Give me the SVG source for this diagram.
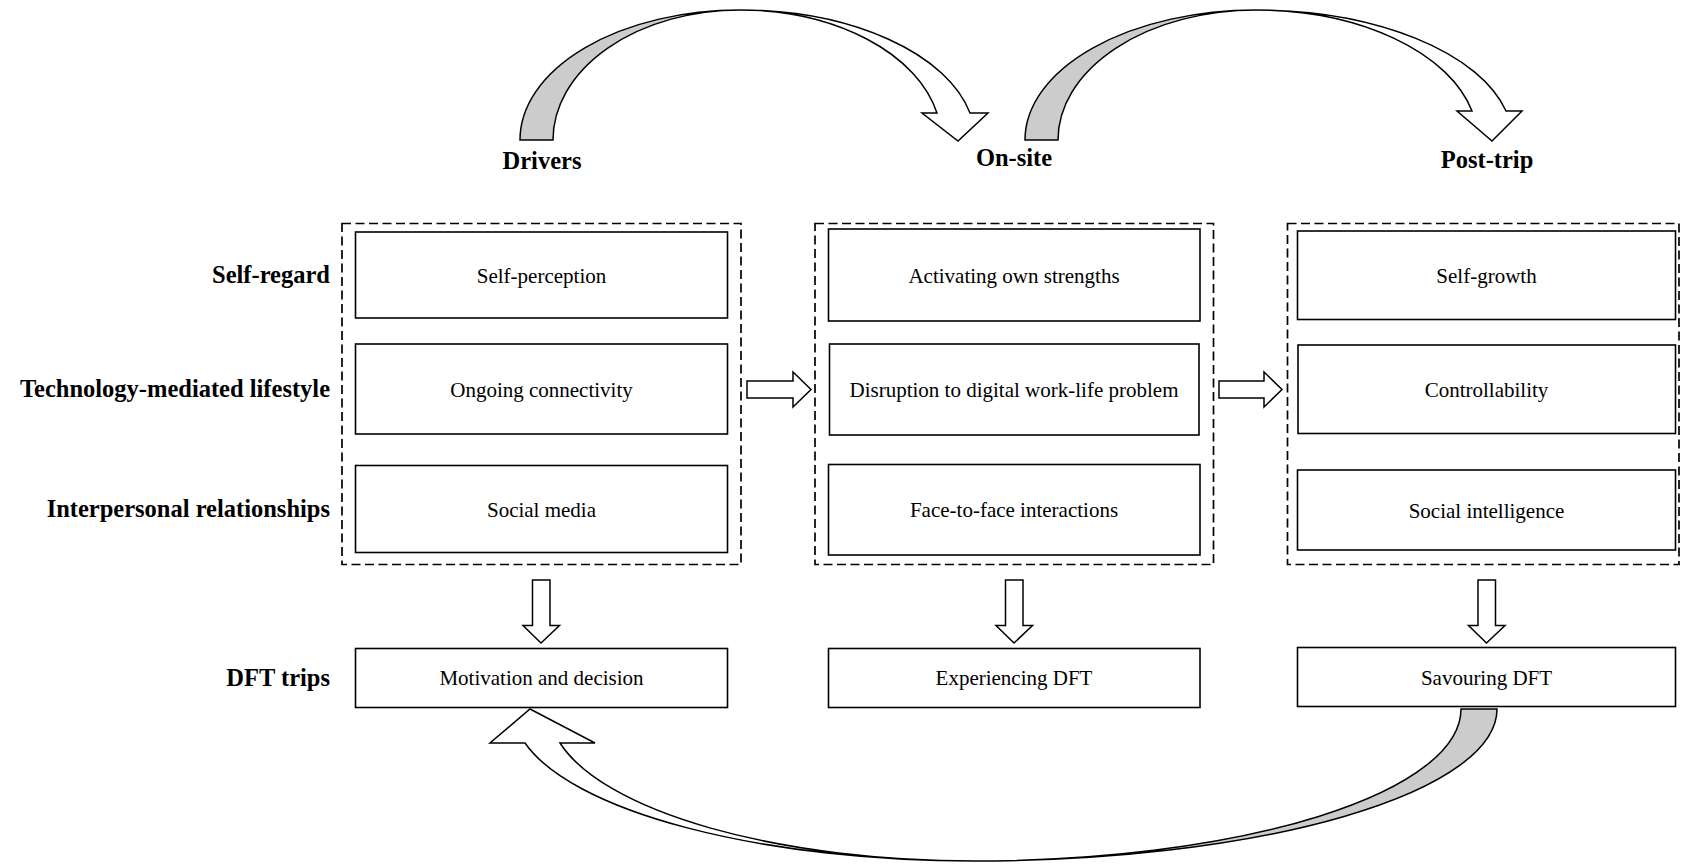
<svg xmlns="http://www.w3.org/2000/svg" width="1681" height="864" viewBox="0 0 1681 864">
  <style>
    .bg { fill: #ffffff; }
    .box { fill: #ffffff; stroke: #000000; stroke-width: 1.6; }
    .group { fill: none; stroke: #000000; stroke-width: 1.7; stroke-dasharray: 9 4.5; }
    .txt { font-family: "Liberation Serif", "Times New Roman", serif; font-size: 21px; fill: #000000; text-anchor: middle; }
    .lbl { font-family: "Liberation Serif", "Times New Roman", serif; font-size: 24.5px; font-weight: bold; fill: #000000; text-anchor: end; }
    .hdr { font-family: "Liberation Serif", "Times New Roman", serif; font-size: 24.5px; font-weight: bold; fill: #000000; text-anchor: middle; }
    .blk { fill: #ffffff; stroke: #000000; stroke-width: 1.5; stroke-linejoin: miter; }
    .back { fill: #cccccc; stroke: #000000; stroke-width: 1.5; stroke-linejoin: miter; }
  </style>
  <rect class="bg" x="0" y="0" width="1681" height="864"/>

  <!-- Phase headers -->
  <g id="header-drivers"><text class="hdr" x="542" y="169">Drivers</text></g>
  <g id="header-onsite"><text class="hdr" x="1014" y="166">On-site</text></g>
  <g id="header-posttrip"><text class="hdr" x="1487" y="168">Post-trip</text></g>

  <!-- Row labels -->
  <g id="label-self-regard"><text class="lbl" x="330" y="283">Self-regard</text></g>
  <g id="label-technology"><text class="lbl" x="330" y="397">Technology-mediated lifestyle</text></g>
  <g id="label-interpersonal"><text class="lbl" x="330" y="517">Interpersonal relationships</text></g>
  <g id="label-dft-trips"><text class="lbl" x="330" y="686">DFT trips</text></g>

  <!-- Phase groupings (dashed) -->
  <g id="group-drivers"><rect class="group" x="342" y="223.5" width="399" height="341"/></g>
  <g id="group-onsite"><rect class="group" x="815" y="223.5" width="398.5" height="341"/></g>
  <g id="group-posttrip"><rect class="group" x="1287.5" y="223.5" width="391.5" height="341"/></g>

  <!-- Drivers column -->
  <g id="node-self-perception">
    <rect class="box" x="355.5" y="232" width="372" height="86"/>
    <text class="txt" x="541.5" y="282.5">Self-perception</text>
  </g>
  <g id="node-ongoing-connectivity">
    <rect class="box" x="355.5" y="344" width="372" height="90"/>
    <text class="txt" x="541.5" y="396.5">Ongoing connectivity</text>
  </g>
  <g id="node-social-media">
    <rect class="box" x="355.5" y="465.5" width="372" height="87"/>
    <text class="txt" x="541.5" y="517">Social media</text>
  </g>

  <!-- On-site column -->
  <g id="node-activating-strengths">
    <rect class="box" x="828.5" y="229" width="371.5" height="92"/>
    <text class="txt" x="1014" y="282.5">Activating own strengths</text>
  </g>
  <g id="node-disruption">
    <rect class="box" x="829.5" y="344" width="369.5" height="91"/>
    <text class="txt" x="1014" y="397">Disruption to digital work-life problem</text>
  </g>
  <g id="node-face-to-face">
    <rect class="box" x="828.5" y="464.5" width="371.5" height="90.5"/>
    <text class="txt" x="1014" y="517">Face-to-face interactions</text>
  </g>

  <!-- Post-trip column -->
  <g id="node-self-growth">
    <rect class="box" x="1297.5" y="231" width="378" height="88.5"/>
    <text class="txt" x="1486.5" y="282.5">Self-growth</text>
  </g>
  <g id="node-controllability">
    <rect class="box" x="1298" y="345" width="377.5" height="88.5"/>
    <text class="txt" x="1486.5" y="396.5">Controllability</text>
  </g>
  <g id="node-social-intelligence">
    <rect class="box" x="1297.5" y="470" width="378" height="80"/>
    <text class="txt" x="1486.5" y="517.5">Social intelligence</text>
  </g>

  <!-- DFT trip stages -->
  <g id="node-motivation">
    <rect class="box" x="355.5" y="648.5" width="372" height="59"/>
    <text class="txt" x="541.5" y="685">Motivation and decision</text>
  </g>
  <g id="node-experiencing">
    <rect class="box" x="828.5" y="648.5" width="371.5" height="59"/>
    <text class="txt" x="1014" y="685">Experiencing DFT</text>
  </g>
  <g id="node-savouring">
    <rect class="box" x="1297.5" y="647.5" width="378" height="59"/>
    <text class="txt" x="1486.5" y="684.5">Savouring DFT</text>
  </g>

  <!-- Connectors -->
  <g id="connectors">
    <!-- block arrows between columns -->
    <path class="blk" d="M747,381 L793,381 L793,372 L811,389.5 L793,407 L793,398 L747,398 Z"/>
    <path class="blk" d="M1219,381 L1264,381 L1264,372 L1282,389.5 L1264,407 L1264,398 L1219,398 Z"/>

    <!-- block arrows down to trip stages -->
    <path class="blk" d="M532.5,580 L550,580 L550,625.5 L559.5,625.5 L541,643 L523,625.5 L532.5,625.5 Z"/>
    <path class="blk" d="M1005.5,580 L1023,580 L1023,625.5 L1032.5,625.5 L1014,643 L996,625.5 L1005.5,625.5 Z"/>
    <path class="blk" d="M1478,580 L1495.5,580 L1495.5,625.5 L1505,625.5 L1486.5,643 L1468.5,625.5 L1478,625.5 Z"/>

    <!-- curved arrow: Drivers to On-site -->
    <path class="back" d="M520,140 A220,130 0 0,1 740,10 A187,130 0 0,0 553,140 Z"/>
    <path class="blk" d="M740,10 A235.1,130 0 0,1 970,113 L988,113 L958,141 L922,113 L937,113 A201.4,130 0 0,0 740,10 Z"/>

    <!-- curved arrow: On-site to Post-trip -->
    <path class="back" d="M1025,140 A231,130 0 0,1 1256,10 A198,130 0 0,0 1058,140 Z"/>
    <path class="blk" d="M1256,10 A256.5,130 0 0,1 1506,111 L1522,111 L1492,141 L1457,111 L1472,111 A221.6,130 0 0,0 1256,10 Z"/>

    <!-- curved return arrow: Savouring DFT back to Motivation and decision -->
    <path class="back" d="M1497,709 A522,152 0 0,1 975,861 A486,152 0 0,0 1461,709 Z"/>
    <path class="blk" d="M975,861 A461.7,152 0 0,1 525,743 L490,743 L530,709 L595,743 L560,743 A425.8,152 0 0,0 975,861 Z"/>
  </g>
</svg>
